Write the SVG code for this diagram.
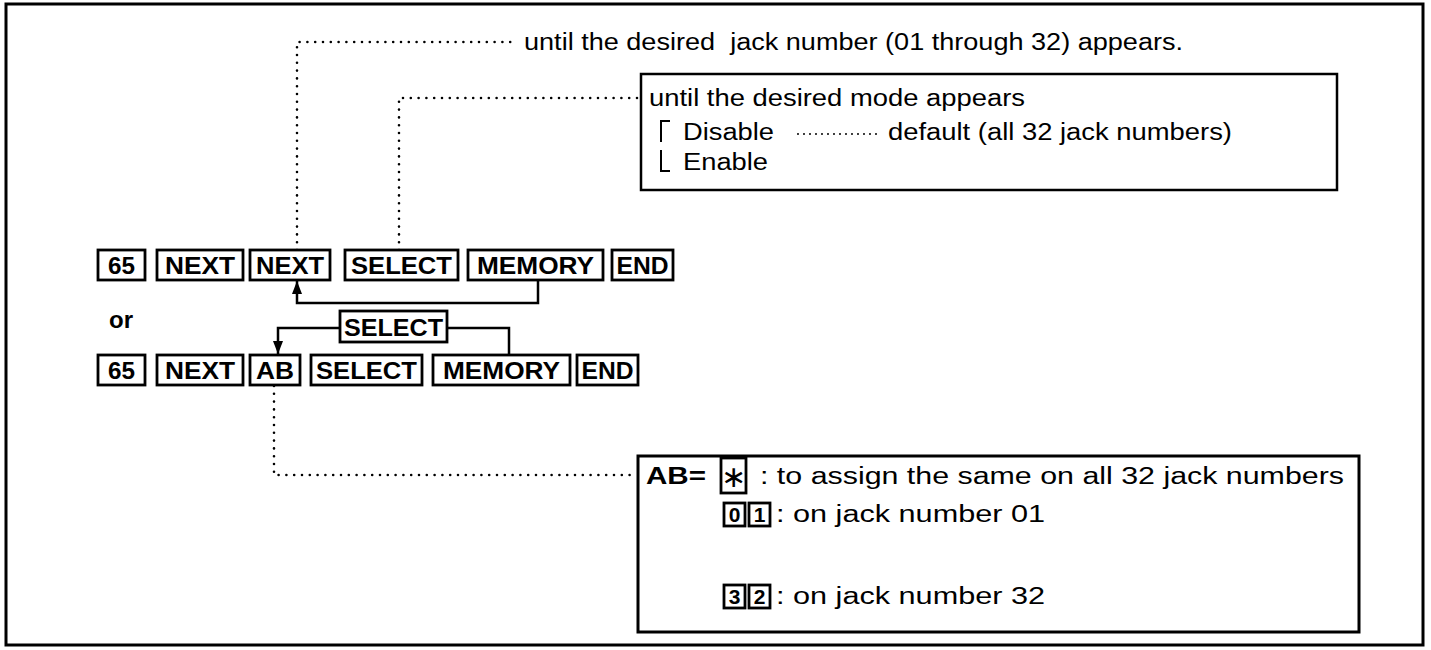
<svg xmlns="http://www.w3.org/2000/svg" width="1431" height="650" viewBox="0 0 1431 650">
<style>
.frame{fill:none;stroke:#000;stroke-width:3}
.box{fill:#fff;stroke:#000;stroke-width:2.5}
.key rect{fill:#fff;stroke:#000;stroke-width:2.8}
.key text,.b{font-family:"Liberation Sans",Arial,sans-serif;font-weight:bold;font-size:24px;text-anchor:middle;fill:#000}
.t{font-family:"Liberation Sans",Arial,sans-serif;font-size:23px;fill:#000}
.dot{fill:none;stroke:#000;stroke-width:2.6;stroke-linecap:round;stroke-dasharray:0 7.8}
.lead{fill:none;stroke:#000;stroke-width:2;stroke-linecap:round;stroke-dasharray:0 6}
.line{fill:none;stroke:#000;stroke-width:2.5}
.brk{fill:none;stroke:#000;stroke-width:2}
</style>
<defs>
<marker id="arr" markerUnits="userSpaceOnUse" viewBox="0 0 13 10" markerWidth="13" markerHeight="10" refX="13" refY="5" orient="auto">
<path d="M0,0 L13,5 L0,10 z" fill="#000"/>
</marker>
</defs>
<rect class="frame" x="6" y="4" width="1417" height="641"/>

<g id="connectors">
<path class="dot" d="M297,250 V42 H518"/>
<path class="dot" d="M399,250 V98 H638"/>
<path class="dot" d="M274,386 V475 H636"/>
<path class="dot" d="M747,530 V582"/>
<path class="line" d="M538,280 V303 H297 V281" marker-end="url(#arr)"/>
<path class="line" d="M340,328 H278 V354" marker-end="url(#arr)"/>
<path class="line" d="M447,328 H509 V355"/>
</g>

<g id="note-jack">
<text class="t" x="524" y="50" textLength="659" lengthAdjust="spacingAndGlyphs" xml:space="preserve">until the desired  jack number (01 through 32) appears.</text>
</g>

<g id="note-mode">
<rect class="box" x="641" y="74" width="696" height="116"/>
<text class="t" x="649" y="106" textLength="376" lengthAdjust="spacingAndGlyphs">until the desired mode appears</text>
<path class="brk" d="M670,121 H661 V142"/>
<path class="brk" d="M661,150 V171 H670"/>
<text class="t" x="683" y="140" textLength="91" lengthAdjust="spacingAndGlyphs">Disable</text>
<path class="lead" d="M798,134 H880"/>
<text class="t" x="888" y="140" textLength="344" lengthAdjust="spacingAndGlyphs">default (all 32 jack numbers)</text>
<text class="t" x="683" y="170" textLength="85" lengthAdjust="spacingAndGlyphs">Enable</text>
</g>

<g id="r1-65" class="key"><rect x="98" y="250" width="47" height="30"/><text x="121.5" y="274" textLength="27" lengthAdjust="spacingAndGlyphs">65</text></g>
<g id="r1-next1" class="key"><rect x="157" y="250" width="86" height="30"/><text x="200" y="274" textLength="70" lengthAdjust="spacingAndGlyphs">NEXT</text></g>
<g id="r1-next2" class="key"><rect x="250" y="250" width="80" height="30"/><text x="290" y="274" textLength="68" lengthAdjust="spacingAndGlyphs">NEXT</text></g>
<g id="r1-select" class="key"><rect x="345" y="250" width="113" height="30"/><text x="401.5" y="274" textLength="101" lengthAdjust="spacingAndGlyphs">SELECT</text></g>
<g id="r1-memory" class="key"><rect x="468" y="250" width="135" height="30"/><text x="535.5" y="274" textLength="117" lengthAdjust="spacingAndGlyphs">MEMORY</text></g>
<g id="r1-end" class="key"><rect x="612" y="250" width="61" height="30"/><text x="642.5" y="274" textLength="52" lengthAdjust="spacingAndGlyphs">END</text></g>

<g id="or"><text class="b" x="121" y="328">or</text></g>

<g id="mid-select" class="key"><rect x="340" y="311" width="107" height="31"/><text x="393.5" y="336" textLength="99" lengthAdjust="spacingAndGlyphs">SELECT</text></g>

<g id="r2-65" class="key"><rect x="98" y="355" width="47" height="30"/><text x="121.5" y="379" textLength="27" lengthAdjust="spacingAndGlyphs">65</text></g>
<g id="r2-next" class="key"><rect x="157" y="355" width="86" height="30"/><text x="200" y="379" textLength="70" lengthAdjust="spacingAndGlyphs">NEXT</text></g>
<g id="r2-ab" class="key"><rect x="250" y="355" width="50" height="30"/><text x="275" y="379" textLength="38" lengthAdjust="spacingAndGlyphs">AB</text></g>
<g id="r2-select" class="key"><rect x="311" y="355" width="111" height="30"/><text x="366.5" y="379" textLength="101" lengthAdjust="spacingAndGlyphs">SELECT</text></g>
<g id="r2-memory" class="key"><rect x="433" y="355" width="137" height="30"/><text x="501.5" y="379" textLength="117" lengthAdjust="spacingAndGlyphs">MEMORY</text></g>
<g id="r2-end" class="key"><rect x="577" y="355" width="61" height="30"/><text x="607.5" y="379" textLength="52" lengthAdjust="spacingAndGlyphs">END</text></g>

<g id="ab-legend">
<rect class="box" x="638" y="456" width="721" height="176" style="stroke-width:3"/>
<text class="b" x="646" y="484" textLength="60" lengthAdjust="spacingAndGlyphs" style="text-anchor:start">AB=</text>
<g id="key-star" class="key"><rect x="721" y="458" width="25" height="35"/><text x="733.5" y="487" style="font-family:'DejaVu Sans',sans-serif;font-weight:normal;font-size:30px">∗</text></g>
<text class="t" x="760" y="484" textLength="584" lengthAdjust="spacingAndGlyphs">: to assign the same on all 32 jack numbers</text>
<g id="key-0" class="key"><rect x="724" y="503" width="21" height="23"/><text x="734.5" y="522" style="font-size:21px">0</text></g>
<g id="key-1" class="key"><rect x="749" y="503" width="21" height="23"/><text x="759.5" y="522" style="font-size:21px">1</text></g>
<text class="t" x="776" y="522" textLength="269" lengthAdjust="spacingAndGlyphs">: on jack number 01</text>
<g id="key-3" class="key"><rect x="724" y="585" width="21" height="23"/><text x="734.5" y="604" style="font-size:21px">3</text></g>
<g id="key-2" class="key"><rect x="749" y="585" width="21" height="23"/><text x="759.5" y="604" style="font-size:21px">2</text></g>
<text class="t" x="776" y="604" textLength="269" lengthAdjust="spacingAndGlyphs">: on jack number 32</text>
</g>
</svg>
